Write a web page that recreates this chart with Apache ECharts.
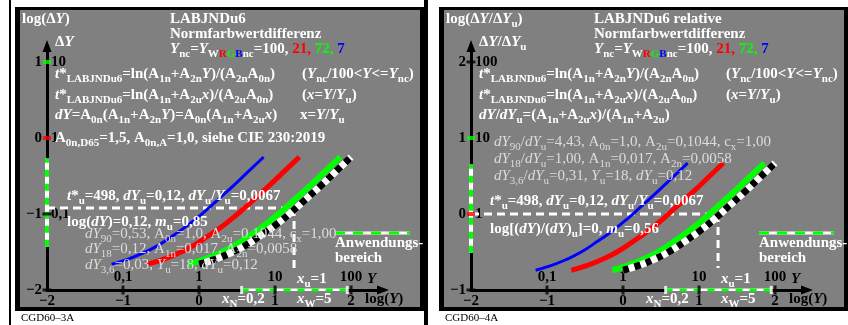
<!DOCTYPE html>
<html>
<head>
<meta charset="utf-8">
<script src="https://cdn.jsdelivr.net/npm/echarts@6/dist/echarts.min.js"></script>
<style>
html, body { margin: 0; padding: 0; background: #fff; }
#chart { width: 848px; height: 325px; }
</style>
</head>
<body>
<div id="chart"></div>
<script>
// log(Y) along the four curves (Ync = 7, 21, 72, 100)
const logYBlue = [-1.15, -0.95, -0.75, -0.55, -0.35, -0.15, 0.05, 0.25, 0.45, 0.65, 0.85]
const logYRed = [-0.68, -0.48, -0.28, -0.08, 0.12, 0.32, 0.52, 0.72, 0.92, 1.12, 1.32]
const logYGreen = [-0.14, 0.06, 0.26, 0.46, 0.66, 0.86, 1.06, 1.26, 1.46, 1.66, 1.86]
const logYWhite = [0.0, 0.2, 0.4, 0.6, 0.8, 1.0, 1.2, 1.4, 1.6, 1.8, 2.0]
// log(dY) along each curve (left) and log(dY/dYu) (right)
const logDY = [-1.66, -1.60, -1.52, -1.42, -1.29, -1.15, -0.99, -0.81, -0.63, -0.44, -0.25]
const logDYRel = [-0.74, -0.68, -0.60, -0.50, -0.37, -0.23, -0.07, 0.11, 0.29, 0.48, 0.67]

// reference point u (Yu=18) and range xN..xW
const refLogYu = 1.25
const refLogDYu = -0.92
const refLogDYRelU = 0
const rangeLogY = [0.56, 1.95]
const rangeLogDY = [-1.43, -0.27]
const rangeLogDYRel = [-0.51, 0.65]

// tick labels
const logYTicks = [-2, -1, 0, 1, 2]
const logYTickLabels = ['−2', '−1', '0', '1', '2']
const yValueLabels = ['', '0,1', '1', '10', '100']
const dyTicksL = [-2, -1, 0, 1]
const dyLabelsL = ['−2', '−1', '0', '1']
const dyValueLabelsL = ['', '0,1', '1', '10']
const dyTicksR = [-1, 0, 1, 2]
const dyLabelsR = ['−1', '0', '1', '2']
const dyValueLabelsR = ['', '1', '10', '100']

const FONT = '"Liberation Serif", "Times New Roman", serif'
const GRAY = '#808080'
const LIGHT = '#dcdcdc'

const pts = (xs, ys) => xs.map((x, i) => [x, ys[i]])
const fmt = (ticks, labels) => (v) => {
  const i = ticks.indexOf(Math.round(v * 100) / 100)
  return i < 0 ? '' : labels[i]
}

// rich styles for sub/italic/colour pieces
function richFor(col, weight) {
  const base = { fontFamily: FONT, fontWeight: weight, fontStyle: 'normal', fontSize: 15, fill: col }
  const sub = { fontSize: 11, verticalAlign: 'bottom' }
  const mk = (o) => Object.assign({}, base, o)
  return {
    i: mk({ fontStyle: 'italic' }),
    s: mk(sub),
    si: mk(Object.assign({ fontStyle: 'italic' }, sub)),
    R: mk({ fill: '#ff0000' }),
    G: mk({ fill: '#00ff00' }),
    B: mk({ fill: '#0000ff' }),
    sR: mk(Object.assign({ fill: '#ff0000' }, sub)),
    sG: mk(Object.assign({ fill: '#00ff00' }, sub)),
    sB: mk(Object.assign({ fill: '#0000ff' }, sub))
  }
}
function label(x, y, text, opt) {
  opt = opt || {}
  const col = opt.color || '#ffffff'
  const weight = opt.weight || 'bold'
  const size = opt.size || 15
  return {
    type: 'text', x: x, y: y, z: 100, silent: true,
    style: {
      text: text, fill: col,
      font: weight + ' ' + size + 'px ' + FONT,
      lineHeight: 22, align: 'left', verticalAlign: 'middle',
      rich: richFor(col, weight)
    }
  }
}
const light = (x, y, t) => label(x, y, t, { color: LIGHT, weight: 'normal' })
const black = (x, y, t) => label(x, y, t, { color: '#000000' })

const ync = '{i|Y}{s|nc}={i|Y}{s|W}{sR|R}{sG|G}{sB|B}{s|nc}=100, {R|21,} {G|72,} {B|7}'
const tLine1 = '{i|t}*{s|LABJNDu6}=ln(A{s|1n}+A{s|2n}{i|Y})/(A{s|2n}A{s|0n})'
const tLine2 = '{i|t}*{s|LABJNDu6}=ln(A{s|1n}+A{s|2u}{i|x})/(A{s|2u}A{s|0n})'
const tCol1 = '({i|Y}{s|nc}/100<{i|Y}<={i|Y}{s|nc})'
const tCol2 = '({i|x}={i|Y}/{i|Y}{s|u})'
const tuLine = '{i|t}*{s|u}=498, {i|dY}{s|u}=0,12, {i|dY}{s|u}/{i|Y}{s|u}=0,0067'

function panelTexts(o, isRel) {
  const t = []
  if (!isRel) {
    t.push(label(22, 19, 'log(Δ{i|Y})'))
    t.push(label(170, 19, 'LABJNDu6'))
    t.push(label(55, 42, 'Δ{i|Y}'))
    t.push(label(55, 115, '{i|dY}=A{s|0n}(A{s|1n}+A{s|2n}{i|Y})=A{s|0n}(A{s|1n}+A{s|2u}{i|x})'))
    t.push(label(300, 115, 'x={i|Y}/{i|Y}{s|u}'))
    t.push(label(55, 138, 'A{s|0n,D65}=1,5, A{s|0n,A}=1,0, siehe CIE 230:2019'))
    t.push(label(67, 196, tuLine))
    t.push(label(67, 222, 'log({i|dY})=0,12, {i|m}{s|u}=0,85'))
    t.push(light(85, 234, '{i|dY}{s|90}=0,53, A{s|0n}=1,0, A{s|2u}=0,1044, c{s|x}=1,00'))
    t.push(light(85, 249, '{i|dY}{s|18}=0,12, A{s|1n}=0,017, A{s|2n}=0,0058'))
    t.push(light(85, 265, '{i|dY}{s|3,6}=0,03, {i|Y}{s|u}=18, {i|dY}{s|u}=0,12'))
    t.push(label(21, 318, 'CGD60–3A', { color: '#000000', weight: 'normal', size: 11 }))
  } else {
    t.push(label(446, 19, 'log(Δ{i|Y}/Δ{i|Y}{s|u})'))
    t.push(label(594, 19, 'LABJNDu6 relative'))
    t.push(label(479, 42, 'Δ{i|Y}/Δ{i|Y}{s|u}'))
    t.push(label(479, 115, '{i|dY}/{i|dY}{s|u}=(A{s|1n}+A{s|2u}{i|x})/(A{s|1n}+A{s|2u})'))
    t.push(light(494, 142, '{i|dY}{s|90}/{i|dY}{s|u}=4,43, A{s|0n}=1,0, A{s|2u}=0,1044, c{s|x}=1,00'))
    t.push(light(494, 159, '{i|dY}{s|18}/{i|dY}{s|u}=1,00, A{s|1n}=0,017, A{s|2n}=0,0058'))
    t.push(light(494, 176, '{i|dY}{s|3,6}/{i|dY}{s|u}=0,31, {i|Y}{s|u}=18, {i|dY}{s|u}=0,12'))
    t.push(label(490, 201, tuLine))
    t.push(label(490, 229, 'log[({i|dY})/({i|dY}){s|u}]=0, {i|m}{s|u}=0,56'))
    t.push(label(445, 318, 'CGD60–4A', { color: '#000000', weight: 'normal', size: 11 }))
  }
  t.push(label(170 + o, 34, 'Normfarbwertdifferenz'))
  t.push(label(170 + o, 49, ync))
  t.push(label(55 + o, 74, tLine1))
  t.push(label(302 + o, 74, tCol1))
  t.push(label(55 + o, 95, tLine2))
  t.push(label(302 + o, 95, tCol2))
  t.push(label(335 + o, 243, 'Anwendungs-'))
  t.push(label(335 + o, 258, 'bereich'))
  t.push(label(222 + o, 299, '{i|x}{s|N}=0,2'))
  t.push(label(297 + o, 299, '{i|x}{s|W}=5'))
  t.push(label(297 + o, 279, '{i|x}{s|u}=1'))
  t.push(black(367 + o, 279, '{i|Y}'))
  t.push(black(365 + o, 299, 'log({i|Y})'))
  return t
}

function frame(x0, x1) {
  return [
    { type: 'rect', z: -20, silent: true, shape: { x: x0, y: 7, width: x1 - x0, height: 304 }, style: { fill: '#000' } },
    { type: 'rect', z: -19, silent: true, shape: { x: x0 + 5, y: 10, width: x1 - x0 - 9, height: 297 }, style: { fill: GRAY } },
    { type: 'line', z: -18, silent: true, shape: { x1: x0 + 320, y1: 233, x2: x0 + 395, y2: 233 }, style: { stroke: '#fff', lineWidth: 3 } },
    { type: 'line', z: -17, silent: true, shape: { x1: x0 + 320, y1: 233, x2: x0 + 395, y2: 233 }, style: { stroke: '#00ff00', lineWidth: 3, lineDash: [10, 8] } }
  ]
}

const axisFont = { color: '#000', fontFamily: FONT, fontWeight: 'bold', fontSize: 15 }
function xAxes(g) {
  const common = { gridIndex: g, type: 'value', min: -2, max: 2.42, interval: 1, splitLine: { show: false }, axisTick: { show: false } }
  return [
    Object.assign({}, common, {
      position: 'bottom',
      axisLine: { onZero: false, symbol: ['none', 'triangle'], symbolSize: [9, 12], lineStyle: { color: '#000', width: 3 } },
      axisLabel: Object.assign({ margin: 4, formatter: fmt(logYTicks, logYTickLabels) }, axisFont)
    }),
    Object.assign({}, common, {
      position: 'bottom', axisLine: { show: false },
      axisLabel: Object.assign({ inside: true, margin: 5, formatter: fmt(logYTicks, yValueLabels) }, axisFont)
    })
  ]
}
function yAxes(g, min, max, ticks, labels, valueLabels) {
  const common = { gridIndex: g, type: 'value', min: min, max: max, interval: 1, splitLine: { show: false }, axisTick: { show: false } }
  return [
    Object.assign({}, common, {
      position: 'left',
      axisLine: { onZero: false, symbol: ['none', 'triangle'], symbolSize: [9, 12], lineStyle: { color: '#000', width: 3 } },
      axisLabel: Object.assign({ margin: 5, formatter: fmt(ticks, labels) }, axisFont)
    }),
    Object.assign({}, common, {
      position: 'left', axisLine: { show: false },
      axisLabel: Object.assign({ inside: true, margin: 4, formatter: fmt(ticks, valueLabels) }, axisFont)
    })
  ]
}

function lineS(xi, yi, data, color, width, dash, z, smooth) {
  return {
    type: 'line', xAxisIndex: xi, yAxisIndex: yi, data: data, symbol: 'none', showSymbol: false,
    smooth: smooth || false, clip: false, silent: true, z: z || 3,
    lineStyle: { color: color, width: width, type: dash || 'solid', cap: 'butt' }
  }
}
function marks(xi, yi, data, color, size) {
  return {
    type: 'scatter', xAxisIndex: xi, yAxisIndex: yi, data: data, symbol: 'rect', symbolSize: size,
    itemStyle: { color: color }, silent: true, z: 6
  }
}

function panelSeries(xi, yi, dy, yMin, refDY, rangeDY, yTicksBlack) {
  return [
    lineS(xi, yi, [[-2, refDY], [refLogYu, refDY]], '#ffffff', 3, [8, 5], 3),
    lineS(xi, yi, [[refLogYu, refDY], [refLogYu, yMin + 0.29]], '#ffffff', 3, [8, 5], 3),
    lineS(xi, yi, pts(logYBlue, dy), '#0000ff', 3, 'solid', 4, true),
    lineS(xi, yi, pts(logYRed, dy), '#ff0000', 5, 'solid', 4, true),
    lineS(xi, yi, pts(logYGreen, dy), '#00ff00', 6, 'solid', 4, true),
    lineS(xi, yi, pts(logYWhite, dy), '#ffffff', 7, 'solid', 4, true),
    lineS(xi, yi, pts(logYWhite, dy), '#000000', 7, [6, 6], 5, true),
    lineS(xi, yi, [[rangeLogY[0], yMin], [rangeLogY[1], yMin]], '#ffffff', 3, 'solid', 5),
    lineS(xi, yi, [[rangeLogY[0], yMin], [rangeLogY[1], yMin]], '#00ff00', 3, [7, 7], 5),
    lineS(xi, yi, [[-2, rangeDY[0]], [-2, rangeDY[1]]], '#ffffff', 4, 'solid', 5),
    lineS(xi, yi, [[-2, rangeDY[0]], [-2, rangeDY[1]]], '#00ff00', 4, [7, 7], 5),
    marks(xi, yi, [[rangeLogY[0], yMin], [rangeLogY[1], yMin]], '#ffffff', [3, 8]),
    marks(xi, yi, [[-1, yMin], [0, yMin], [1, yMin], [2, yMin]], '#000000', [3, 9]),
    marks(xi, yi, yTicksBlack.map((v) => [-2, v]), '#000000', [9, 3]),
    marks(xi, yi, [[-2, 1]], '#00ff00', [8, 4]),
    marks(xi, yi, [[-2, 0]], '#ff0000', [8, 4])
  ]
}

const chart = echarts.init(document.getElementById('chart'), null, { renderer: 'canvas' })
chart.setOption({
  animation: false,
  backgroundColor: '#ffffff',
  grid: [
    { left: 47, top: 46, width: 336, height: 244 },
    { left: 471, top: 46, width: 336, height: 244 }
  ],
  xAxis: xAxes(0).concat(xAxes(1)),
  yAxis: yAxes(0, -2, 1.21, dyTicksL, dyLabelsL, dyValueLabelsL)
    .concat(yAxes(1, -1, 2.21, dyTicksR, dyLabelsR, dyValueLabelsR)),
  series: panelSeries(0, 0, logDY, -2, refLogDYu, rangeLogDY, [-1, -2])
    .concat(panelSeries(2, 2, logDYRel, -1, refLogDYRelU, rangeLogDYRel, [2, -1])),
  graphic: {
    elements: [
      { type: 'rect', z: -30, silent: true, shape: { x: 9, y: 0, width: 2, height: 325 }, style: { fill: '#000' } },
      { type: 'rect', z: -30, silent: true, shape: { x: 424, y: 0, width: 4, height: 325 }, style: { fill: '#000' } }
    ].concat(frame(15, 424), frame(439, 848), panelTexts(0, false), panelTexts(424, true))
  }
})
</script>
</body>
</html>
